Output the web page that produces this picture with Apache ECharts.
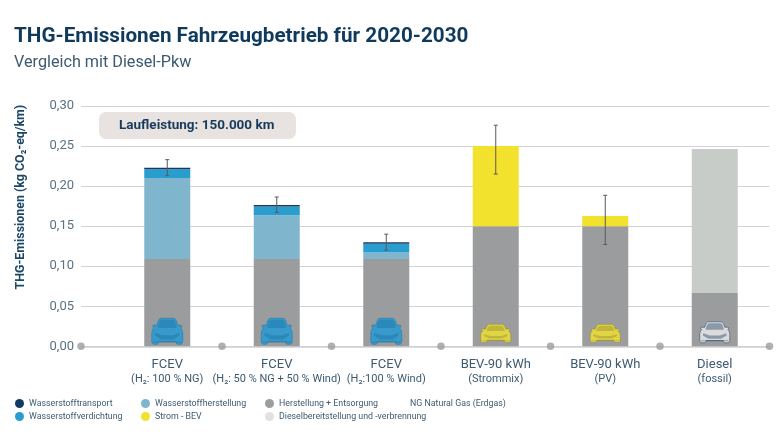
<!DOCTYPE html>
<html><head><meta charset="utf-8">
<style>html,body{margin:0;padding:0;background:#fff}#c{width:780px;height:439px}</style>
<script src="https://cdn.jsdelivr.net/npm/echarts@6/dist/echarts.min.js"></script>
</head><body><div id="c"></div>
<script>
const categories = ['FCEV','FCEV','FCEV','BEV-90 kWh','BEV-90 kWh','Diesel'];
const subLabels = ['(H₂: 100 % NG)','(H₂: 50 % NG + 50 % Wind)','(H₂:100 % Wind)','(Strommix)','(PV)','(fossil)'];
const yTicks = [0,0.05,0.10,0.15,0.20,0.25,0.30];
const herstellung = [0.109,0.109,0.109,0.150,0.150,0.0665];
const h2Herstellung = [0.101,0.0545,0.008,0,0,0];
const h2Verdichtung = [0.011,0.011,0.011,0,0,0];
const h2Transport = [0.002,0.002,0.002,0,0,0];
const stromBev = [0,0,0,0.100,0.0127,0];
const diesel = [0,0,0,0,0,0.1798];
const errLow = [0.213,0.167,0.120,0.215,0.127,null];
const errHigh = [0.233,0.1864,0.140,0.276,0.1885,null];
const carColors = ['#1f9ad6','#1f9ad6','#1f9ad6','#f2e22e','#f2e22e','#eceaea'];
const carEdges = ['#17709f','#17709f','#17709f','#8f8a2a','#8f8a2a','#123a63'];
const boundaries = [1,2,3,4,5,6];

const C = {transport:'#123a63',verd:'#2a9dcf',h2:'#7fb6cd',gray:'#9b9c9e',yellow:'#f2e22e',diesel:'#c8ccc8',dieselLegend:'#e5e0de'};
const carBody = 'path://M9 1 L21 1 C23 1 24 3 25 7 L28 7 C29.5 7 29.5 9 28 9.5 C29.5 11 30 13 30 15 L30 21 C30 23 29 24 27.5 24 L25.5 24 C24 24 23.5 23 23.5 21.5 L6.5 21.5 C6.5 23 6 24 4.5 24 L2.5 24 C1 24 0 23 0 21 L0 15 C0 13 .5 11 2 9.5 C.5 9 .5 7 2 7 L5 7 C6 3 7 1 9 1 Z';
const carGlass = 'path://M9.5 2.5 L20.5 2.5 C22 2.5 23 5 23.8 8.5 L6.2 8.5 C7 5 8 2.5 9.5 2.5 Z M4 12 L10 14 L20 14 L26 12 L26.5 14 L21 17 L9 17 L3.5 14 Z M2 18.5 L28 18.5 L28 19.5 L2 19.5 Z';
const carSize = i => i<3 ? [31,26] : i<5 ? [30,18] : [30,21];
const carShift = i => i<3 ? -15 : i<5 ? -13 : -14;

const chart = echarts.init(document.getElementById('c'));
const stacked = (name,data,color)=>({name,type:'bar',stack:'t',xAxisIndex:0,yAxisIndex:0,barWidth:46,data,
  itemStyle:{color},emphasis:{disabled:true},z:2});
const legendStyle = {fontSize:8.8,color:'#3d5a70',fontFamily:'Roboto'};
const leg = (left,items)=>({left,top:399,orient:'vertical',itemWidth:9,itemHeight:9,itemGap:4,icon:'circle',itemStyle:{},
  textStyle:legendStyle,selectedMode:false,data:items,padding:0});

chart.setOption({
  animation:false,
  backgroundColor:'#fff',
  textStyle:{fontFamily:'Roboto'},
  title:[
    {text:'THG-Emissionen Fahrzeugbetrieb für 2020-2030',left:14,top:26,padding:0,textStyle:{fontSize:20.7,fontWeight:'bold',color:'#103a5c',fontFamily:'Roboto'}},
    {text:'Vergleich mit Diesel-Pkw',left:14,top:55,padding:0,textStyle:{fontSize:16.2,fontWeight:'normal',color:'#3d5a70',fontFamily:'Roboto'}},
    {text:'NG Natural Gas (Erdgas)',left:410,top:399,padding:0,textStyle:{fontSize:8.8,fontWeight:'normal',color:'#3d5a70',fontFamily:'Roboto'}}
  ],
  legend:[
    leg(15,[{name:'Wasserstofftransport'},{name:'Wasserstoffverdichtung'}]),
    leg(141,[{name:'Wasserstoffherstellung'},{name:'Strom - BEV'}]),
    leg(265,[{name:'Herstellung + Entsorgung'},{name:'Dieselbereitstellung und -verbrennung',itemStyle:{color:C.dieselLegend}}])
  ],
  grid:[
    {left:112.5,width:657,top:106,height:240.3},
    {left:81,width:31.5,top:106,height:240.3}
  ],
  xAxis:[
    {type:'category',gridIndex:0,data:categories.map((c,i)=>i),
      axisLine:{lineStyle:{color:'#cfcfd2',width:1.5}},axisTick:{show:false},
      axisLabel:{interval:0,margin:10,formatter:(v)=>`{a|${categories[v]}}\n{b|${subLabels[v]}}`,
        rich:{a:{fontSize:13,color:'#3d5a70',lineHeight:16,fontFamily:'Roboto'},b:{fontSize:11,color:'#3d5a70',lineHeight:14,fontFamily:'Roboto'}}}},
    {type:'value',gridIndex:1,min:0,max:1,show:true,splitLine:{show:false},axisTick:{show:false},axisLabel:{show:false},
      axisLine:{show:true,lineStyle:{color:'#cfcfd2',width:1.5}}},
    {type:'value',gridIndex:0,min:0,max:6,show:false}
  ],
  yAxis:[
    {type:'value',gridIndex:0,min:0,max:0.3,interval:0.05,axisLabel:{show:false},axisLine:{show:false},axisTick:{show:false},
      splitLine:{lineStyle:{color:'#d2d2d8',width:1}}},
    {type:'value',gridIndex:1,min:0,max:0.3,interval:0.05,axisLine:{show:false},axisTick:{show:false},
      splitLine:{lineStyle:{color:'#d2d2d8',width:1}},
      axisLabel:{margin:7,fontSize:13,color:'#5b7282',fontFamily:'Roboto',formatter:v=>yTicks[Math.round(v/0.05)].toFixed(2).replace('.',',')},
      name:'THG-Emissionen (kg CO₂-eq/km)',nameLocation:'middle',nameGap:54,nameRotate:90,
      nameTextStyle:{fontSize:12.4,fontWeight:'bold',color:'#1d4766',fontFamily:'Roboto',padding:[0,0,0,58]}}
  ],
  graphic:[
    {type:'rect',left:99,top:112,z:1,shape:{width:197,height:27,r:7},style:{fill:'#e8e3e0'}},
    {type:'text',left:119,top:119,z:2,style:{text:'Laufleistung: 150.000 km',fontSize:13.5,fontWeight:'bold',fill:'#17395c',fontFamily:'Roboto'}}
  ],
  series:[
    stacked('Herstellung + Entsorgung',herstellung,C.gray),
    stacked('Wasserstoffherstellung',h2Herstellung,C.h2),
    stacked('Wasserstoffverdichtung',h2Verdichtung,C.verd),
    stacked('Wasserstofftransport',h2Transport,C.transport),
    stacked('Strom - BEV',stromBev,C.yellow),
    stacked('Dieselbereitstellung und -verbrennung',diesel,C.diesel),
    {type:'custom',xAxisIndex:0,yAxisIndex:0,z:5,silent:true,
      data:errLow.map((l,i)=>[i,l,errHigh[i]]).filter(d=>d[1]!==null),
      encode:{x:0,y:[1,2]},
      renderItem:(p,api)=>{
        const a=api.coord([api.value(0),api.value(1)]),b=api.coord([api.value(0),api.value(2)]);
        const st={stroke:'#5a5a5a',lineWidth:1};
        return {type:'group',children:[
          {type:'line',shape:{x1:a[0],y1:a[1],x2:b[0],y2:b[1]},style:st},
          {type:'line',shape:{x1:a[0]-2,y1:a[1],x2:a[0]+2,y2:a[1]},style:st},
          {type:'line',shape:{x1:b[0]-2,y1:b[1],x2:b[0]+2,y2:b[1]},style:st}
        ]};
      }},
    {type:'scatter',xAxisIndex:0,yAxisIndex:0,z:6,silent:true,symbol:carBody,
      data:categories.map((c,i)=>({value:[i,0],symbolSize:carSize(i),symbolOffset:[0,carShift(i)],itemStyle:{color:carColors[i],borderColor:carEdges[i],borderWidth:.6}}))},
    {type:'scatter',xAxisIndex:0,yAxisIndex:0,z:7,silent:true,symbol:carGlass,
      data:categories.map((c,i)=>({value:[i,0],symbolSize:carSize(i).map(s=>s-3),symbolOffset:[0,carShift(i)],itemStyle:{color:carEdges[i],opacity:.4}}))},
    {type:'scatter',xAxisIndex:2,yAxisIndex:0,z:4,silent:true,symbol:'circle',symbolSize:7.5,clip:false,
      itemStyle:{color:C.gray},data:boundaries.map(b=>[b,0])},
    {type:'scatter',xAxisIndex:1,yAxisIndex:1,z:4,silent:true,symbol:'circle',symbolSize:7.5,clip:false,
      itemStyle:{color:C.gray},data:[[0,0]]}
  ]
});
</script></body></html>
